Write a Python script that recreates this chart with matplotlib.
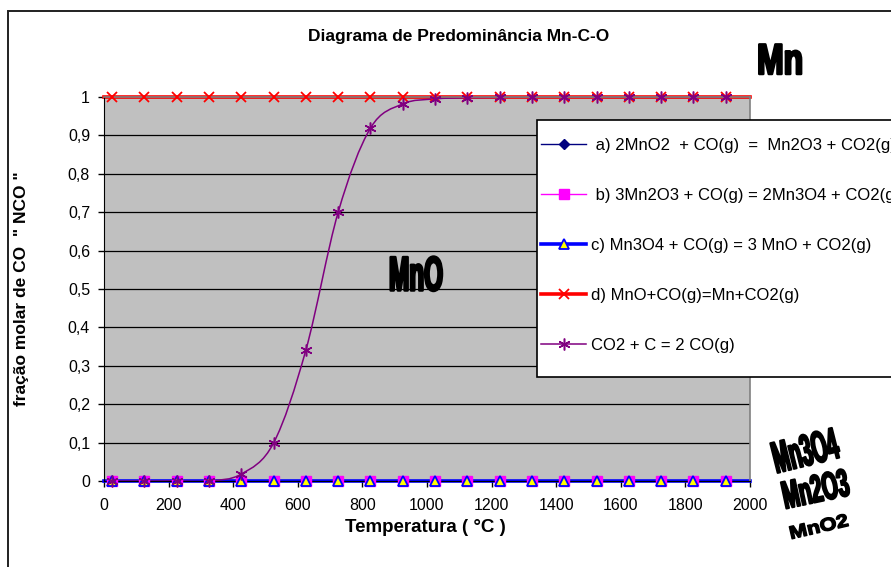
import matplotlib
matplotlib.use("Agg")
import matplotlib.pyplot as plt
from matplotlib.patches import Rectangle, PathPatch
from matplotlib.path import Path
from matplotlib.patheffects import AbstractPathEffect
from matplotlib.transforms import Affine2D
import numpy as np

plt.rcParams['font.family'] = ['Liberation Sans', 'DejaVu Sans']

# temperatures (°C) of the computed points
temps = [25, 125, 225, 325, 425, 525, 625, 725, 825, 925,
         1025, 1125, 1225, 1325, 1425, 1525, 1625, 1725, 1825, 1925]

# equilibrium CO fraction for each reaction
mno2_mn2o3 = [0.0] * 20
mn2o3_mn3o4 = [0.0] * 20
mn3o4_mno = [0.0] * 20
mno_mn = [1.0] * 20
boudouard = [0.0, 0.0, 0.0, 0.0, 0.018, 0.099, 0.341, 0.700, 0.919, 0.982,
             0.995, 0.998, 0.999, 1.0, 1.0, 1.0, 1.0, 1.0, 1.0, 1.0]

labels = [" a) 2MnO2  + CO(g)  =  Mn2O3 + CO2(g)",
          " b) 3Mn2O3 + CO(g) = 2Mn3O4 + CO2(g)",
          "c) Mn3O4 + CO(g) = 3 MnO + CO2(g)",
          "d) MnO+CO(g)=Mn+CO2(g)",
          "CO2 + C = 2 CO(g)"]

x_ticks = [0, 200, 400, 600, 800, 1000, 1200, 1400, 1600, 1800, 2000]
y_ticks = [0, 0.1, 0.2, 0.3, 0.4, 0.5, 0.6, 0.7, 0.8, 0.9, 1]
y_ticklabels = ["0", "0,1", "0,2", "0,3", "0,4", "0,5", "0,6", "0,7", "0,8", "0,9", "1"]

T_MIN, T_MAX = 0, 2000
W, H = 891, 567


class Narrow(AbstractPathEffect):
    """Squeeze text glyphs along their baseline (WordArt-like lettering)."""
    def __init__(self, text, factor, stroke=0.0):
        super().__init__()
        self.text = text
        self.factor = factor
        self.stroke = stroke

    def draw_path(self, renderer, gc, tpath, affine, rgbFace=None):
        bb = self.text.get_window_extent(renderer)
        cx, cy = bb.x0 + bb.width / 2, bb.y0 + bb.height / 2
        ang = self.text.get_rotation()
        squeeze = (Affine2D().translate(-cx, -cy).rotate_deg(-ang)
                   .scale(self.factor, 1).rotate_deg(ang).translate(cx, cy))
        gc0 = renderer.new_gc()
        gc0.copy_properties(gc)
        if self.stroke:
            gc0.set_linewidth(self.stroke)
            gc0.set_foreground(rgbFace)
        renderer.draw_path(gc0, tpath, affine + squeeze, rgbFace)
        gc0.restore()


def smooth_path(x, y):
    # Catmull-Rom curve through the points, as cubic Bezier segments
    pts = np.column_stack([x, y]).astype(float)
    verts = [pts[0]]
    codes = [Path.MOVETO]
    n = len(pts)
    for i in range(n - 1):
        p0 = pts[max(i - 1, 0)]
        p1 = pts[i]
        p2 = pts[i + 1]
        p3 = pts[min(i + 2, n - 1)]
        verts += [p1 + (p2 - p0) / 6, p2 - (p3 - p1) / 6, p2]
        codes += [Path.CURVE4] * 3
    return Path(verts, codes)


fig = plt.figure(figsize=(W / 100, H / 100), dpi=100)
ax = fig.add_axes([104 / W, 1 - 481 / H, 646 / W, 384 / H])
ax.set_facecolor('#C0C0C0')
ax.set_xlim(T_MIN, T_MAX)
ax.set_ylim(0, 1)

# flat equilibrium lines run across the whole temperature range
def full_span(vals):
    return [T_MIN] + temps + [T_MAX], [vals[0]] + vals + [vals[-1]]

xa, ya = full_span(mno2_mn2o3)
la, = ax.plot(xa, ya, color='#000080', lw=1.0, zorder=2)
ma, = ax.plot(temps, mno2_mn2o3, ls='none', marker='D', ms=5,
              color='#000080', zorder=3, clip_on=False)

xb, yb = full_span(mn2o3_mn3o4)
lb, = ax.plot(xb, yb, color='#FF00FF', lw=1.0, zorder=2)
mb, = ax.plot(temps, mn2o3_mn3o4, ls='none', marker='s', ms=6.5,
              color='#FF00FF', zorder=3, clip_on=False)

xc, yc = full_span(mn3o4_mno)
lc, = ax.plot(xc, yc, color='#0000FF', lw=2.6, zorder=2, clip_on=False)
mc, = ax.plot(temps, mn3o4_mno, ls='none', marker='^', ms=6.5,
              mfc='#FFFF00', mec='#0000FF', mew=1.3, zorder=3, clip_on=False)

xd, yd = full_span(mno_mn)
ld, = ax.plot(xd, yd, color='#FF0000', lw=2.6, zorder=2, clip_on=False)
md, = ax.plot(temps, mno_mn, ls='none', marker='x', ms=6.5, mew=1.3,
              color='#FF0000', zorder=3, clip_on=False)

curve = PathPatch(smooth_path(temps, boudouard), fc='none', ec='#800080',
                  lw=1.1, zorder=2.5)
ax.add_patch(curve)
le, = ax.plot([], [], color='#800080', lw=1.1)
me, = ax.plot(temps, boudouard, ls='none', marker=(6, 2, 0), ms=8.5, mew=1.1,
              color='#800080', zorder=3.5, clip_on=False)

# axes styling
ax.set_xticks(x_ticks)
ax.set_yticks(y_ticks)
ax.set_yticklabels(y_ticklabels)
ax.tick_params(axis='both', direction='out', length=4, width=1,
               labelsize=11.5, color='black')
ax.tick_params(axis='x', pad=8)
ax.tick_params(axis='y', pad=6)
ax.yaxis.grid(True, color='black', lw=0.9)
ax.set_axisbelow(True)
for side in ('left', 'bottom'):
    ax.spines[side].set_color('black')
for side in ('top', 'right'):
    ax.spines[side].set_color('#808080')
    ax.spines[side].set_linewidth(1.2)

fig.text(459 / W, 1 - 37 / H, "Diagrama de Predominância Mn-C-O",
         ha='center', va='center', fontsize=12.5, fontweight='bold')
fig.text(425 / W, 1 - 527 / H, "Temperatura ( °C )",
         ha='center', va='center', fontsize=13.5, fontweight='bold')
fig.text(22 / W, 1 - 289 / H, 'fração molar de CO  " NCO "', rotation=90,
         ha='center', va='center', fontsize=12.5, fontweight='bold')

# legend box hanging over the right edge
fig.patches.append(Rectangle((537 / W, 1 - 377 / H), 0.5, 257 / H,
                             transform=fig.transFigure, fc='white',
                             ec='black', lw=1.2, zorder=5))
leg = fig.legend([(la, ma), (lb, mb), (lc, mc), (ld, md), (le, me)], labels,
                 loc='upper left', bbox_to_anchor=(541 / W, 1 - 138 / H),
                 bbox_transform=fig.transFigure, frameon=False, fontsize=12,
                 handlelength=2.7, handletextpad=0.3, labelspacing=2.1,
                 borderpad=0, borderaxespad=0)
leg.set_zorder(6)

# chart border
fig.patches.append(Rectangle((8 / W, -0.1), 1.2, 1.1 - 11 / H,
                             transform=fig.transFigure, fc='none',
                             ec='#202020', lw=1.4, zorder=7))

# phase field labels
def field_label(x, y, s, size, factor, rot=0, stroke=0.0):
    t = fig.text(x / W, 1 - y / H, s, ha='center', va='center',
                 fontsize=size, fontweight='bold', rotation=rot,
                 rotation_mode='anchor', zorder=8)
    t.set_path_effects([Narrow(t, factor, stroke)])
    return t

field_label(780, 63, "Mn", 31, 0.74, stroke=1.8)
field_label(416, 278, "MnO", 35, 0.5, stroke=1.8)
field_label(806, 454, "Mn3O4", 32, 0.45, rot=14, stroke=1.5)
field_label(816, 492, "Mn2O3", 28, 0.52, rot=12, stroke=1.5)
field_label(819, 528, "MnO2", 13, 1.2, rot=13, stroke=1.0)

fig.savefig("out.png", dpi=100)
